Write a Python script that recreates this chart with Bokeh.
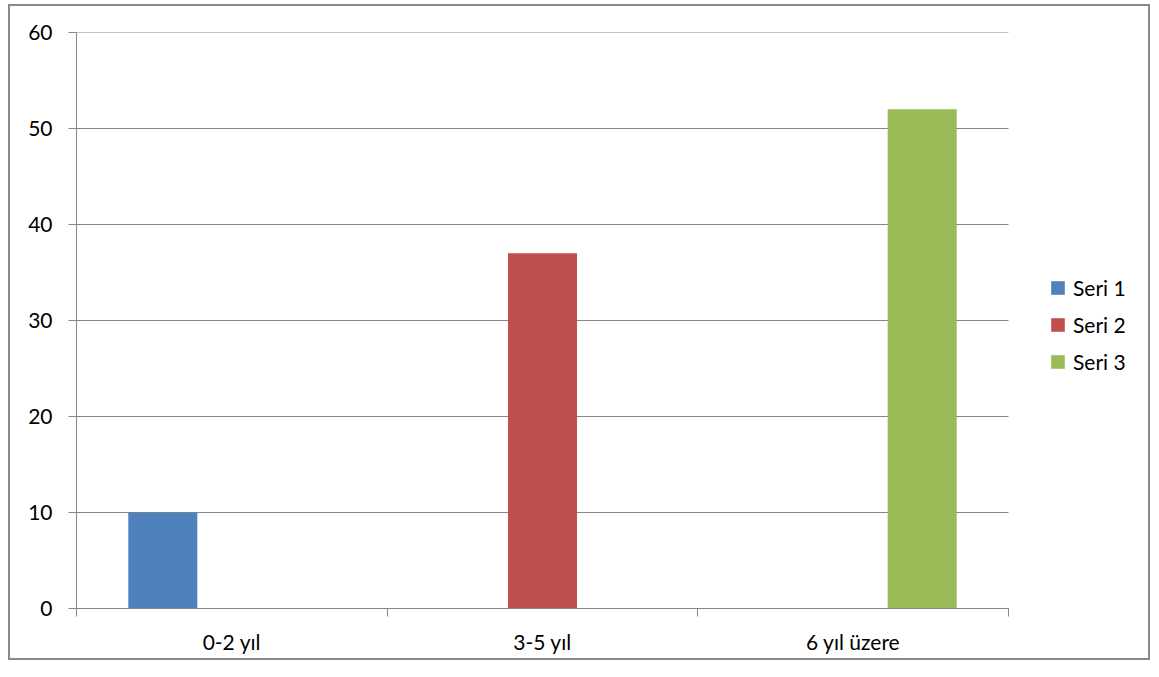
import numpy as np
from bokeh.plotting import figure
from bokeh.models import Range1d, FixedTicker, Legend, LegendItem
from bokeh.embed import file_html
from bokeh.resources import INLINE

categories = ["0-2 yıl", "3-5 yıl", "6 yıl üzere"]
series_names = ["Seri 1", "Seri 2", "Seri 3"]
seri1 = [10, 0, 0]
seri2 = [0, 37, 0]
seri3 = [0, 0, 52]
colors = ["#4F81BD", "#C0504D", "#9BBB59"]
y_ticks = [0, 10, 20, 30, 40, 50, 60]

FONT = "Lato"
FS = "21px"
GRAY = "#868686"

W, H = 1142, 656
ML, MR, MT, MB = 66, 10, 26, 54
PLOT_PX = 932.0                      # pixel width of the category area
frame_w = W - ML - MR
x_end = len(categories) * frame_w / PLOT_PX   # extra room on the right for legend

p = figure(width=W, height=H, output_backend="svg", toolbar_location=None,
           x_range=Range1d(0, x_end), y_range=Range1d(0, 60),
           min_border_left=ML, min_border_top=MT, min_border_right=MR, min_border_bottom=MB,
           margin=(4, 0, 0, 8))
p.styles = {"border": "2px solid #898989", "box-sizing": "border-box"}
p.outline_line_color = None
p.background_fill_color = "white"
p.border_fill_color = "white"

# horizontal gridlines limited to the category area
p.segment(x0=0, x1=len(categories), y0=y_ticks, y1=y_ticks,
          line_color=GRAY, line_width=1, level="underlay")

n = len(series_names)
bw = 1.0 / (n + 1.5)
idx = np.arange(len(categories))
renderers = []
for i, (vals, c) in enumerate(zip([seri1, seri2, seri3], colors)):
    xs = idx + 0.5 + (i - (n - 1) / 2) * bw
    r = p.vbar(x=xs, top=vals, width=bw, bottom=0, fill_color=c, line_color=None)
    renderers.append(r)

# y axis
p.yaxis.ticker = FixedTicker(ticks=y_ticks)
p.yaxis.axis_line_color = GRAY
p.yaxis.major_tick_line_color = GRAY
p.yaxis.major_tick_out = 8
p.yaxis.major_tick_in = 0
p.yaxis.minor_tick_line_color = None
p.yaxis.major_label_standoff = 16
p.yaxis.major_label_text_font = FONT
p.yaxis.major_label_text_font_size = FS
p.yaxis.major_label_text_color = "black"

# x axis
p.xaxis.bounds = (0, len(categories))
p.xaxis.ticker = FixedTicker(ticks=list(idx + 0.5), minor_ticks=list(range(len(categories) + 1)))
p.xaxis.major_label_overrides = {float(i + 0.5): c for i, c in enumerate(categories)}
p.xaxis.axis_line_color = GRAY
p.xaxis.major_tick_line_color = None
p.xaxis.minor_tick_line_color = GRAY
p.xaxis.minor_tick_out = 8
p.xaxis.minor_tick_in = 0
p.xaxis.major_tick_out = 8
p.xaxis.major_label_standoff = 12
p.xaxis.major_label_text_font = FONT
p.xaxis.major_label_text_font_size = FS
p.xaxis.major_label_text_color = "black"

p.xgrid.grid_line_color = None
p.ygrid.grid_line_color = None

legend = Legend(items=[LegendItem(label=s, renderers=[r]) for s, r in zip(series_names, renderers)],
                location=(973, 234), padding=0, margin=0, border_line_color=None,
                background_fill_alpha=0, glyph_width=17, glyph_height=17,
                label_standoff=7, spacing=12, label_height=22,
                label_text_font=FONT, label_text_font_size=FS, label_text_color="black")
p.add_layout(legend, "center")

open("out.html", "w").write(file_html(p, INLINE))
